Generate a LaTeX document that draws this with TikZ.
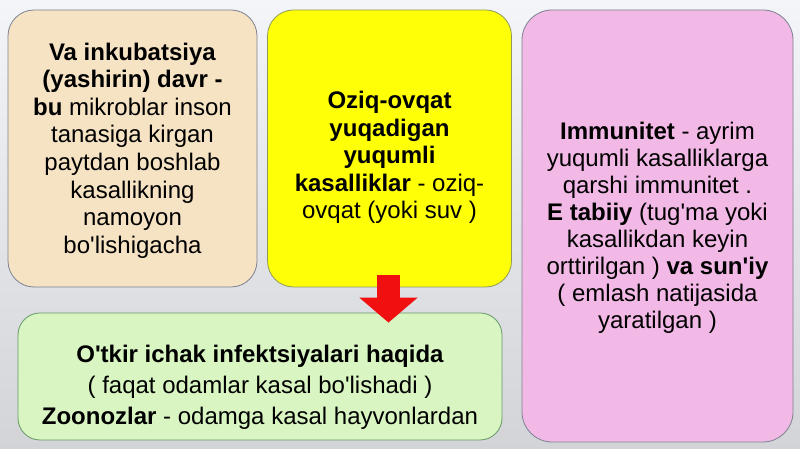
\documentclass[tikz,border=0pt]{standalone}
\usepackage{fontspec}
\setmainfont{Liberation Sans}[Ligatures=TeXOff]
\usetikzlibrary{arrows.meta}
\definecolor{bgtop}{HTML}{F4F5F8}
\definecolor{bgbot}{HTML}{D2D4D8}
\definecolor{beige}{HTML}{F6E3C4}
\definecolor{yel}{HTML}{FFFF08}
\definecolor{pinkb}{HTML}{F2B8E6}
\definecolor{greenb}{HTML}{D8F5C2}
\definecolor{edgegray}{HTML}{7C8290}
\definecolor{edgegreen}{HTML}{8E9A5A}
\definecolor{arrowred}{HTML}{F01010}
\tikzset{
  card/.style={draw=edgegray, line width=0.8pt, rounded corners=26pt, inner sep=0pt},
  cardtext/.style={align=center, font=\fontsize{24}{27.6}\selectfont, text=black},
}
\begin{document}
\begin{tikzpicture}[x=1pt,y=1pt]
\useasboundingbox (0,0) rectangle (800,449);
\shade[top color=bgtop, bottom color=bgbot] (0,0) rectangle (800,449);
% boxes (pixel coords: y measured from bottom = 449 - top)
\node[card, fill=beige, minimum width=249pt, minimum height=277pt] (b1) at (132.5,300.5) {};
\node[card, fill=yel, draw=edgegreen, minimum width=244pt, minimum height=277pt] (b2) at (389.5,300.5) {};
\node[card, fill=pinkb, minimum width=271pt, minimum height=432pt, rounded corners=30pt] (b3) at (657.5,223) {};
\node[card, fill=greenb, draw=gray!80!green, minimum width=484pt, minimum height=127pt, rounded corners=22pt] (b4) at (260,72.5) {};
% texts
\node[cardtext] (t1) at (b1.center) [yshift=-2pt] {\textbf{Va inkubatsiya}\\\textbf{(yashirin) davr -}\\\textbf{bu} mikroblar inson\\tanasiga kirgan\\paytdan boshlab\\kasallikning\\namoyon\\bo'lishigacha};
\node[cardtext] (t2) at (b2.center) [yshift=-9pt] {\textbf{Oziq-ovqat}\\\textbf{yuqadigan}\\\textbf{yuqumli}\\\textbf{kasalliklar} - oziq-\\ovqat (yoki suv )};
\node[cardtext, font=\fontsize{24}{27}\selectfont] (t3) at (b3.center) [yshift=-2pt] {\textbf{Immunitet} - ayrim\\yuqumli kasalliklarga\\qarshi immunitet .\\\textbf{E tabiiy} (tug'ma yoki\\kasallikdan keyin\\orttirilgan ) \textbf{va sun'iy}\\( emlash natijasida\\yaratilgan )};
\node[cardtext, font=\fontsize{24}{31}\selectfont] (t4) at (b4.center) [yshift=-11pt] {\textbf{O'tkir ichak infektsiyalari haqida}\\( faqat odamlar kasal bo'lishadi )\\\textbf{Zoonozlar} - odamga kasal hayvonlardan};
% red arrow from b2 to b4
\coordinate (as) at ([xshift=-1pt,yshift=12pt]b2.south);
\coordinate (ae) at ([yshift=-10pt]as |- b4.north);
\draw[arrowred, line width=23pt, -{Triangle[length=25pt,width=57pt]}] (as) -- (ae);
\end{tikzpicture}
\end{document}
